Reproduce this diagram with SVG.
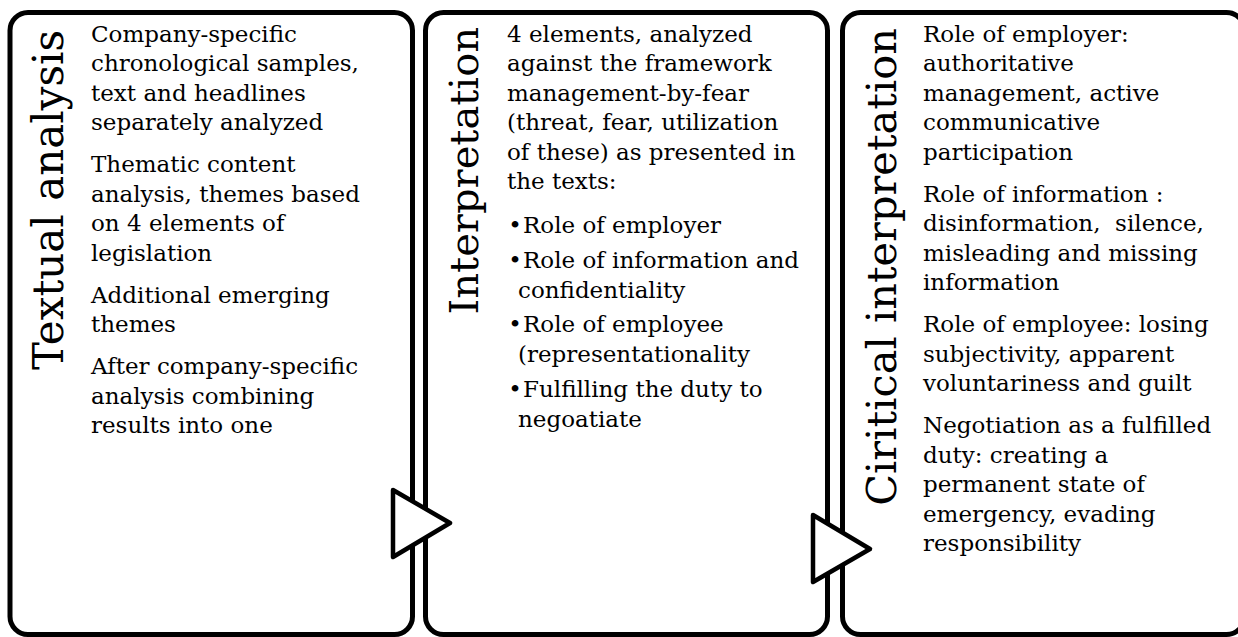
<svg xmlns="http://www.w3.org/2000/svg" width="1238" height="637" viewBox="0 0 1238 637">
<style>
.box{fill:#fff;stroke:#000;stroke-width:5}
.title{font-family:"DejaVu Serif","Liberation Serif",serif;fill:#000}
.body{font-family:"DejaVu Serif","Liberation Serif",serif;font-size:23px;fill:#000}
.arrow{fill:#fff;stroke:#000;stroke-width:4.5;stroke-linejoin:round}
</style>
<rect width="1238" height="637" fill="#fff"/>
<g id="node-textual">
<rect class="box" x="10" y="12.5" width="402.5" height="622" rx="18"/>
<text class="title" font-size="42" transform="translate(63,30) rotate(-90)" text-anchor="end">Textual analysis</text>
<text class="body">
<tspan x="91" y="41.7">Company-specific</tspan>
<tspan x="91" y="71.2">chronological samples,</tspan>
<tspan x="91" y="100.7">text and headlines</tspan>
<tspan x="91" y="130.2">separately analyzed</tspan>
<tspan x="91" y="172.2">Thematic content</tspan>
<tspan x="91" y="201.7">analysis, themes based</tspan>
<tspan x="91" y="231.2">on 4 elements of</tspan>
<tspan x="91" y="260.7">legislation</tspan>
<tspan x="91" y="302.7">Additional emerging</tspan>
<tspan x="91" y="332.2">themes</tspan>
<tspan x="91" y="374.2">After company-specific</tspan>
<tspan x="91" y="403.7">analysis combining</tspan>
<tspan x="91" y="433.2">results into one</tspan>
</text>
</g>
<g id="node-interpretation">
<rect class="box" x="425.5" y="12.5" width="402" height="622" rx="18"/>
<text class="title" font-size="40" transform="translate(478,27) rotate(-90)" text-anchor="end">Interpretation</text>
<text class="body">
<tspan x="507" y="41.7">4 elements, analyzed</tspan>
<tspan x="507" y="71.2">against the framework</tspan>
<tspan x="507" y="100.7">management-by-fear</tspan>
<tspan x="507" y="130.2">(threat, fear, utilization</tspan>
<tspan x="507" y="159.7">of these) as presented in</tspan>
<tspan x="507" y="189.2">the texts:</tspan>
</text>
<text class="body" x="515" y="233" text-anchor="middle">•</text>
<text class="body" x="515" y="267.5" text-anchor="middle">•</text>
<text class="body" x="515" y="332" text-anchor="middle">•</text>
<text class="body" x="515" y="396.5" text-anchor="middle">•</text>
<text class="body">
<tspan x="523" y="233">Role of employer</tspan>
<tspan x="523" y="267.5">Role of information and</tspan>
<tspan x="518" y="297.5">confidentiality</tspan>
<tspan x="523" y="332">Role of employee</tspan>
<tspan x="518" y="362">(representationality</tspan>
<tspan x="523" y="396.5">Fulfilling the duty to</tspan>
<tspan x="518" y="426.5">negoatiate</tspan>
</text>
</g>
<g id="node-critical">
<rect class="box" x="842.5" y="12.5" width="402" height="622" rx="18"/>
<text class="title" font-size="41.5" transform="translate(896,28) rotate(-90)" text-anchor="end">Ciritical interpretation</text>
<text class="body">
<tspan x="923" y="41.7">Role of employer:</tspan>
<tspan x="923" y="71.2">authoritative</tspan>
<tspan x="923" y="100.7">management, active</tspan>
<tspan x="923" y="130.2">communicative</tspan>
<tspan x="923" y="159.7">participation</tspan>
<tspan x="923" y="201.7">Role of information :</tspan>
<tspan x="923" y="231.2" xml:space="preserve">disinformation,  silence,</tspan>
<tspan x="923" y="260.7">misleading and missing</tspan>
<tspan x="923" y="290.2">information</tspan>
<tspan x="923" y="332.2">Role of employee: losing</tspan>
<tspan x="923" y="361.7">subjectivity, apparent</tspan>
<tspan x="923" y="391.2">voluntariness and guilt</tspan>
<tspan x="923" y="433.2">Negotiation as a fulfilled</tspan>
<tspan x="923" y="462.7">duty: creating a</tspan>
<tspan x="923" y="492.2">permanent state of</tspan>
<tspan x="923" y="521.7">emergency, evading</tspan>
<tspan x="923" y="551.2">responsibility</tspan>
</text>
</g>
<g id="connectors">
<polygon class="arrow" points="393,490 450,523 393,557"/>
<polygon class="arrow" points="813,515 870,549 813,582"/>
</g>
</svg>
